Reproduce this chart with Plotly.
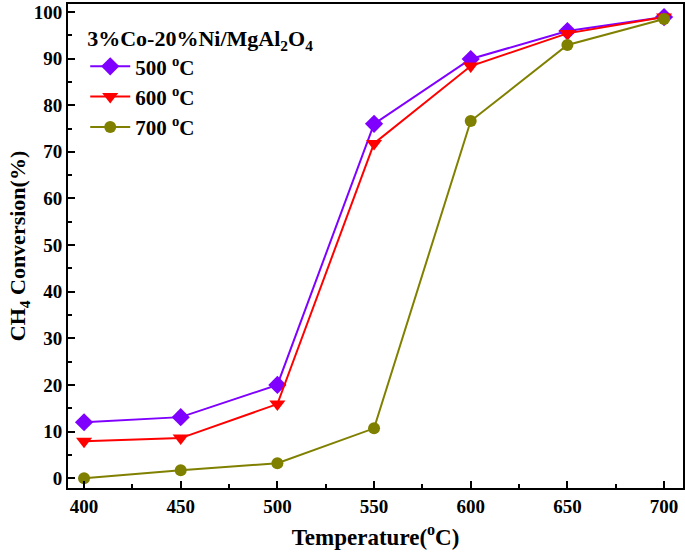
import plotly.graph_objects as go

temps = [400, 450, 500, 550, 600, 650, 700]
conv_500 = [12.0, 13.1, 20.0, 76.0, 89.9, 95.9, 98.9]
conv_600 = [7.9, 8.6, 15.9, 71.8, 88.4, 95.4, 98.9]
conv_700 = [0.0, 1.7, 3.2, 10.7, 76.6, 92.9, 98.5]
names = ["500 <sup>o</sup>C", "600 <sup>o</sup>C", "700 <sup>o</sup>C"]
colors = ["#7F00FF", "#FF0000", "#808000"]
symbols = ["diamond", "triangle-down", "circle"]

fig = go.Figure()
for ys, nm, c, s in zip([conv_500, conv_600, conv_700], names, colors, symbols):
    fig.add_trace(go.Scatter(x=temps, y=ys, name=nm, mode="lines+markers",
                             line=dict(color=c, width=2),
                             marker=dict(symbol=s, size=14 if s != "circle" else 12, color=c)))

font = "Liberation Serif, Times New Roman, serif"
fig.update_layout(
    width=685, height=554,
    margin=dict(l=68, r=2, t=4, b=66),
    paper_bgcolor="white", plot_bgcolor="white",
    font=dict(family=font, color="black", weight="bold"),
    showlegend=True,
    legend=dict(x=0.028, y=0.972, xanchor="left", yanchor="top",
                title=dict(text="3%Co-20%Ni/MgAl<sub>2</sub>O<sub>4</sub>",
                           font=dict(size=22, family=font, weight="bold")),
                font=dict(size=21, family=font, weight="bold"), bgcolor="rgba(0,0,0,0)",
                itemwidth=40, tracegroupgap=0),
    xaxis=dict(range=[391.7, 709.8], tickvals=temps, automargin=False,
               ticks="inside", ticklen=7, tickwidth=2, tickcolor="black",
               minor=dict(ticks="inside", ticklen=4, tickwidth=2, dtick=25, tick0=400, tickcolor="black"),
               showline=True, linewidth=2, linecolor="black", mirror=True,
               showgrid=False, zeroline=False,
               tickfont=dict(size=19, family=font, weight="bold"),
               title=dict(text="Temperature(<sup>o</sup>C)",
                          font=dict(size=23, family=font, weight="bold"), standoff=13)),
    yaxis=dict(range=[-2.1, 101.7], tickvals=list(range(0, 101, 10)), automargin=False,
               ticks="inside", ticklen=7, tickwidth=2, tickcolor="black",
               minor=dict(ticks="inside", ticklen=4, tickwidth=2, dtick=5, tick0=0, tickcolor="black"),
               showline=True, linewidth=2, linecolor="black", mirror=True,
               showgrid=False, zeroline=False,
               tickfont=dict(size=19, family=font, weight="bold"),
               title=dict(text="CH<sub>4</sub> Conversion(%)",
                          font=dict(size=22, family=font, weight="bold"), standoff=2)),
)
fig.write_html("out.html", config={"displayModeBar": False},
               post_script="document.body.style.margin='0';document.body.style.overflow='hidden';")
